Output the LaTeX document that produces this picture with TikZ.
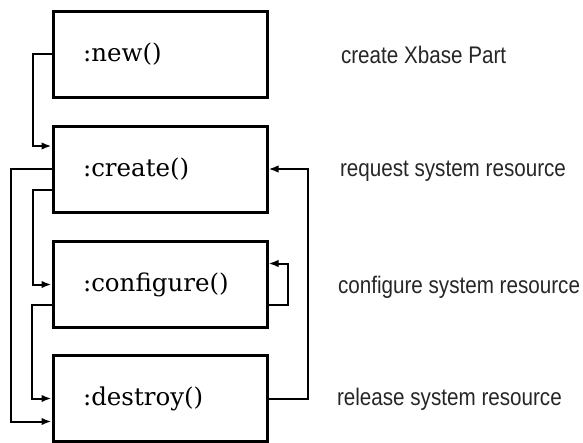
\documentclass[tikz,border=0pt]{standalone}
\usepackage{fontspec}
\usetikzlibrary{arrows.meta}
\newfontfamily\methodfont{DejaVu Serif}
\newfontfamily\notefont[FakeStretch=0.86]{Liberation Sans}

\begin{document}
\begin{tikzpicture}[x=1pt,y=-1pt,
		method/.style={draw, line width=3pt, minimum width=214pt, minimum height=86pt,
			text width=154pt, inner xsep=30pt, align=left,
			font=\methodfont\fontsize{24.5pt}{24.5pt}\selectfont},
		note/.style={anchor=base west, inner sep=0, outer sep=0, black!85,
			font=\notefont\fontsize{24pt}{24pt}\selectfont},
		flow/.style={line width=2pt, -{Latex[length=10pt,width=7.5pt]}}]
	\useasboundingbox (0,0) rectangle (583,442);
	% the four methods of a part
	\node[method] (new) at (160,54) {:new()};
	\node[method] (create) at (160,169) {:create()};
	\node[method] (configure) at (160,284.5) {:configure()};
	\node[method] (destroy) at (160,398.5) {:destroy()};
	% what each one does
	\node[note] (newnote) at (341,63) {create Xbase Part};
	\node[note] (createnote) at (340,176) {request system resource};
	\node[note] (configurenote) at (338,293) {configure system resource};
	\node[note] (destroynote) at (337,405) {release system resource};
	% calls that may follow
	\draw[flow] (new.west) -- ++(-19,0) |- ([yshift=23pt]create.west);
	\draw[flow] (create.west) -- ++(-41,0) |- ([yshift=-23pt]destroy.west);
	\draw[flow] ([yshift=-21pt]create.west) -- ++(-19,0) |- (configure.west);
	\draw[flow] ([yshift=-20pt]configure.west) -- ++(-20,0) |- (destroy.west);
	\draw[flow] ([yshift=-20pt]configure.east) -- ++(19,0) |- ([yshift=21pt]configure.east);
	\draw[flow] (destroy.east) -- ++(39,0) |- (create.east);
\end{tikzpicture}
\end{document}
